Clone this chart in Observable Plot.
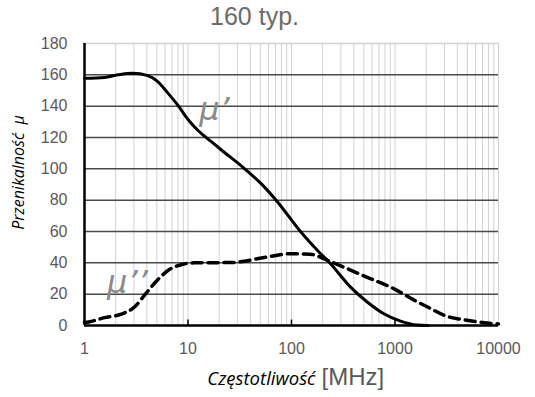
<!DOCTYPE html>
<html>
<head>
<meta charset="utf-8">
<script src="https://cdn.jsdelivr.net/npm/d3@7"></script>
<script src="https://cdn.jsdelivr.net/npm/@observablehq/plot@0.6"></script>
<style>
  html, body { margin: 0; padding: 0; background: #fff; }
</style>
</head>
<body>
<div id="chart"></div>
<script>
// μ' (real part)
const muRealFreq = [1, 1.56, 2.1, 2.9, 4.09, 5.1, 6.37, 8, 10, 12.5, 16.7, 20.6, 34.6, 50, 72, 122, 190, 230, 372, 539, 780, 1130, 1640, 2100];
const muRealVal  = [157.8, 158.3, 160, 161, 159.5, 155.7, 148.5, 140.5, 131.5, 124.5, 117.5, 112.5, 100.5, 91, 79.5, 60, 46, 40.5, 24.5, 15, 7.5, 2.8, 0.3, 0];
// μ'' (imaginary part)
const muImagFreq = [1, 1.1, 1.56, 2.26, 3.04, 3.94, 5.1, 6.6, 8.6, 11.5, 26, 58, 98, 152, 220, 300, 540, 980, 1500, 2040, 3200, 4300, 6700, 9300, 10000];
const muImagVal  = [2, 2.3, 5, 7.2, 11.8, 20.6, 29.2, 35.7, 38.8, 40, 40.2, 43.7, 45.8, 45.5, 41.7, 38, 30.7, 23.4, 16.5, 12, 5.8, 4, 2.1, 1.1, 1];

const xTicks = [1, 10, 100, 1000, 10000];
const decadeMarks = [10, 100, 1000];
const yTicks = [0, 20, 40, 60, 80, 100, 120, 140, 160, 180];
const curveLabels = ["μ’", "μ’’"];
const curveLabelFreq = [18, 2.6];
const curveLabelVal = [138, 27];

const title = "160 typ.";
const xTitle = "Częstotliwość";
const xUnit = "[MHz]";
const yTitle = "Przenikalność  μ";

const minorGrid = [];
for (let d = 1; d < 10000; d *= 10) for (let k = 1; k <= 9; k++) minorGrid.push(d * k);
minorGrid.push(10000);

const realData = muRealFreq.map((f, i) => ({f, v: muRealVal[i]}));
const imagData = muImagFreq.map((f, i) => ({f, v: muImagVal[i]}));
const labelData = curveLabels.map((t, i) => ({t, f: curveLabelFreq[i], v: curveLabelVal[i]}));
const hGridDark = yTicks.filter(v => v > 0 && v < 180);

const chart = Plot.plot({
  width: 535,
  height: 397,
  marginLeft: 84,
  marginRight: 37,
  marginTop: 43,
  marginBottom: 72,
  style: {fontFamily: "Liberation Sans, Arial, sans-serif", background: "#fff"},
  x: {type: "log", domain: [1, 10000]},
  y: {domain: [0, 180]},
  marks: [
    Plot.ruleX(minorGrid, {y1: 0, y2: 180, stroke: "#d2d2d2", strokeWidth: 1}),
    Plot.ruleY([180], {stroke: "#d2d2d2", strokeWidth: 1.5}),
    Plot.ruleY(hGridDark, {stroke: "#4a4a4a", strokeWidth: 1.5}),
    Plot.axisY({ticks: yTicks, tickSize: 0, tickPadding: 17, fontSize: 16, fill: "#595959", label: null}),
    Plot.axisX({ticks: xTicks, tickFormat: d => String(d), tickSize: 0, tickPadding: 17, fontSize: 16, fill: "#595959", label: null}),
    Plot.ruleX(decadeMarks, {y1: 0, y2: 3.5, stroke: "#000", strokeWidth: 1.5}),
    Plot.line(imagData, {x: "f", y: "v", stroke: "#000", strokeWidth: 3.5, strokeDasharray: "10,6", curve: "monotone-x"}),
    Plot.line(realData, {x: "f", y: "v", stroke: "#000", strokeWidth: 3, curve: "monotone-x"}),
    Plot.ruleX([1], {y1: 0, y2: 180, stroke: "#000", strokeWidth: 2.5}),
    Plot.ruleY([0], {stroke: "#000", strokeWidth: 2.5}),
    Plot.text(labelData, {x: "f", y: "v", text: "t", fontSize: 32, fontStyle: "italic", fill: "#8a8a8a", fontFamily: "DejaVu Sans", fontWeight: 200}),
    Plot.text([title], {frameAnchor: "top", lineAnchor: "middle", dx: -37, dy: -27, fontSize: 25, fill: "#6b6b6b"}),
    Plot.text([xTitle], {frameAnchor: "bottom", textAnchor: "end", lineAnchor: "middle", dx: 24, dy: 54, fontSize: 18.5, fontStyle: "italic", fill: "#000", fontFamily: "Open Sans"}),
    Plot.text([xUnit], {frameAnchor: "bottom", textAnchor: "start", lineAnchor: "middle", dx: 30, dy: 52, fontSize: 24, fill: "#595959"}),
    Plot.text([yTitle], {frameAnchor: "left", textAnchor: "middle", rotate: -90, dx: -66, dy: -12, fontSize: 16, fontStyle: "italic", fill: "#000", fontFamily: "Open Sans"})
  ]
});
document.getElementById("chart").appendChild(chart);
</script>
</body>
</html>
